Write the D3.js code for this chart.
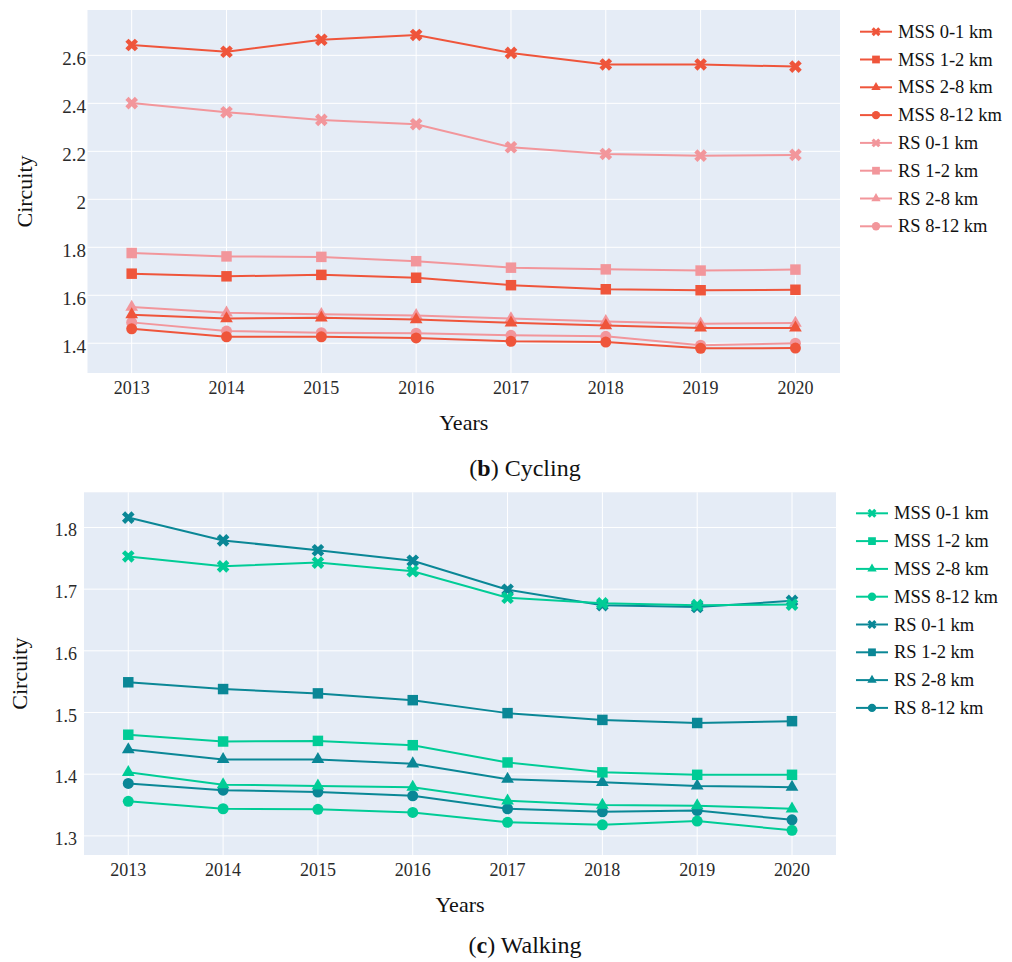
<!DOCTYPE html>
<html><head><meta charset="utf-8">
<script src="https://cdn.jsdelivr.net/npm/d3@7"></script>
<style>body{margin:0;background:#fff}svg{display:block}</style>
</head><body>
<svg id="c" width="1012" height="962"></svg>
<script>
const years = [2013, 2014, 2015, 2016, 2017, 2018, 2019, 2020];
const seriesNames = ["MSS 0-1 km","MSS 1-2 km","MSS 2-8 km","MSS 8-12 km","RS 0-1 km","RS 1-2 km","RS 2-8 km","RS 8-12 km"];
const symbolsBySeries = ["x","square","triangle","circle","x","square","triangle","circle"];

// (b) Cycling
const cycMSS01 = [2.643, 2.615, 2.665, 2.685, 2.610, 2.562, 2.562, 2.553];
const cycMSS12 = [1.690, 1.679, 1.685, 1.673, 1.642, 1.625, 1.621, 1.623];
const cycMSS28 = [1.519, 1.503, 1.506, 1.499, 1.485, 1.474, 1.464, 1.464];
const cycMSS812 = [1.460, 1.427, 1.427, 1.422, 1.408, 1.405, 1.379, 1.380];
const cycRS01 = [2.401, 2.363, 2.331, 2.313, 2.217, 2.189, 2.182, 2.185];
const cycRS12 = [1.776, 1.762, 1.760, 1.742, 1.715, 1.708, 1.703, 1.707];
const cycRS28 = [1.551, 1.527, 1.521, 1.516, 1.503, 1.491, 1.481, 1.484];
const cycRS812 = [1.487, 1.451, 1.444, 1.442, 1.433, 1.429, 1.392, 1.400];
const cycTicks = [1.4, 1.6, 1.8, 2.0, 2.2, 2.4, 2.6];
const cycTickLabels = ["1.4","1.6","1.8","2","2.2","2.4","2.6"];

// (c) Walking
const walMSS01 = [1.753, 1.737, 1.743, 1.729, 1.686, 1.677, 1.674, 1.675];
const walMSS12 = [1.464, 1.453, 1.454, 1.447, 1.419, 1.403, 1.399, 1.399];
const walMSS28 = [1.403, 1.383, 1.381, 1.379, 1.357, 1.350, 1.349, 1.344];
const walMSS812 = [1.356, 1.344, 1.343, 1.338, 1.322, 1.318, 1.324, 1.309];
const walRS01 = [1.816, 1.779, 1.763, 1.746, 1.699, 1.674, 1.671, 1.681];
const walRS12 = [1.549, 1.538, 1.531, 1.520, 1.499, 1.488, 1.483, 1.486];
const walRS28 = [1.440, 1.424, 1.424, 1.417, 1.392, 1.387, 1.381, 1.379];
const walRS812 = [1.385, 1.374, 1.371, 1.365, 1.344, 1.339, 1.341, 1.326];
const walTicks = [1.3, 1.4, 1.5, 1.6, 1.7, 1.8];
const walTickLabels = ["1.3","1.4","1.5","1.6","1.7","1.8"];

const svg = d3.select("#c");
const FONT = "'Liberation Serif', 'Times New Roman', serif";

function markerPath(type) {
  if (type === "x") return d3.symbol(d3.symbolCross, 100)();
  if (type === "square") return d3.symbol(d3.symbolSquare, 110)();
  if (type === "triangle") return d3.symbol(d3.symbolTriangle, 70)();
  return d3.symbol(d3.symbolCircle, 95)();
}
function legendPath(type) {
  if (type === "x") return d3.symbol(d3.symbolCross, 50)();
  if (type === "square") return d3.symbol(d3.symbolSquare, 60)();
  if (type === "triangle") return d3.symbol(d3.symbolTriangle, 38)();
  return d3.symbol(d3.symbolCircle, 55)();
}

function panel(cfg) {
  const g = svg.append("g");
  const x = d3.scaleLinear().domain(cfg.xDomain).range([cfg.left, cfg.right]);
  const y = d3.scaleLinear().domain(cfg.yDomain).range([cfg.bottom, cfg.top]);
  g.append("rect").attr("x", cfg.left).attr("y", cfg.top)
    .attr("width", cfg.right - cfg.left).attr("height", cfg.bottom - cfg.top)
    .attr("fill", "#E5ECF6");
  g.selectAll(".vg").data(years).join("line")
    .attr("x1", d => x(d)).attr("x2", d => x(d))
    .attr("y1", cfg.top).attr("y2", cfg.bottom)
    .attr("stroke", "#fff").attr("stroke-width", 1);
  g.selectAll(".hg").data(cfg.ticks).join("line")
    .attr("x1", cfg.left).attr("x2", cfg.right)
    .attr("y1", d => y(d)).attr("y2", d => y(d))
    .attr("stroke", "#fff").attr("stroke-width", 1);
  g.selectAll(".yt").data(cfg.ticks).join("text")
    .attr("x", cfg.left - cfg.yLabelGap).attr("y", d => y(d) + cfg.yLabelDy)
    .attr("text-anchor", "end").attr("font-family", FONT).attr("font-size", cfg.yTickSize)
    .attr("fill", "#2a2a2a")
    .text((d, i) => cfg.tickLabels[i]);
  g.selectAll(".xt").data(years).join("text")
    .attr("x", d => x(d)).attr("y", cfg.bottom + 21)
    .attr("text-anchor", "middle").attr("font-family", FONT).attr("font-size", 18)
    .attr("fill", "#2a2a2a")
    .text(d => String(d));
  g.append("text").attr("x", (cfg.left + cfg.right) / 2).attr("y", cfg.bottom + 57)
    .attr("text-anchor", "middle").attr("font-family", FONT).attr("font-size", 22)
    .attr("fill", "#111").text("Years");
  const cy = (cfg.top + cfg.bottom) / 2;
  g.append("text").attr("transform", `translate(${cfg.yTitleX},${cy}) rotate(-90)`)
    .attr("text-anchor", "middle").attr("font-family", FONT).attr("font-size", 22)
    .attr("fill", "#111").text("Circuity");
  const cap = g.append("text").attr("x", 525).attr("y", cfg.captionY)
    .attr("text-anchor", "middle").attr("font-family", FONT).attr("font-size", 24)
    .attr("fill", "#111");
  cap.append("tspan").text("(");
  cap.append("tspan").attr("font-weight", "bold").text(cfg.captionLetter);
  cap.append("tspan").text(") " + cfg.captionText);

  const line = d3.line().x((d, i) => x(years[i])).y(d => y(d));
  const order = [7, 6, 5, 4, 3, 2, 1, 0];
  order.forEach(si => {
    const vals = cfg.series[si];
    const col = si < 4 ? cfg.colA : cfg.colB;
    const sg = g.append("g");
    sg.append("path").datum(vals).attr("d", line).attr("fill", "none")
      .attr("stroke", col).attr("stroke-width", 2);
    sg.selectAll("path.m").data(vals).join("path").attr("class", "m")
      .attr("d", markerPath(symbolsBySeries[si]))
      .attr("transform", (d, i) => `translate(${x(years[i])},${y(d)})` + (symbolsBySeries[si] === "x" ? " rotate(45)" : ""))
      .attr("fill", col);
  });
  seriesNames.forEach((name, si) => {
    const col = si < 4 ? cfg.colA : cfg.colB;
    const ly = cfg.legendY + si * 27.8;
    const lg = g.append("g");
    lg.append("line").attr("x1", cfg.legendX).attr("x2", cfg.legendX + 32)
      .attr("y1", ly).attr("y2", ly).attr("stroke", col).attr("stroke-width", 2);
    lg.append("path").attr("d", legendPath(symbolsBySeries[si]))
      .attr("transform", `translate(${cfg.legendX + 16},${ly})` + (symbolsBySeries[si] === "x" ? " rotate(45)" : ""))
      .attr("fill", col);
    lg.append("text").attr("x", cfg.legendX + 38).attr("y", ly + 6)
      .attr("font-family", FONT).attr("font-size", 18.5).attr("fill", "#111").text(name);
  });
}

panel({
  left: 87.5, right: 840, top: 10, bottom: 373,
  xDomain: [2012.534, 2020.47], yDomain: [1.276, 2.789],
  ticks: cycTicks, tickLabels: cycTickLabels,
  yLabelGap: 1.5, yLabelDy: 10, yTickSize: 19, yTitleX: 32,
  series: [cycMSS01, cycMSS12, cycMSS28, cycMSS812, cycRS01, cycRS12, cycRS28, cycRS812],
  colA: "#EF553B", colB: "#F2969B",
  legendX: 860, legendY: 31.7,
  captionY: 476, captionLetter: "b", captionText: "Cycling"
});
panel({
  left: 84, right: 836, top: 492.3, bottom: 855,
  xDomain: [2012.533, 2020.464], yDomain: [1.269, 1.857],
  ticks: walTicks, tickLabels: walTickLabels,
  yLabelGap: 7, yLabelDy: 9, yTickSize: 18, yTitleX: 27,
  series: [walMSS01, walMSS12, walMSS28, walMSS812, walRS01, walRS12, walRS28, walRS812],
  colA: "#00CC96", colB: "#0A8796",
  legendX: 856, legendY: 513.3,
  captionY: 953, captionLetter: "c", captionText: "Walking"
});
</script>
</body></html>
